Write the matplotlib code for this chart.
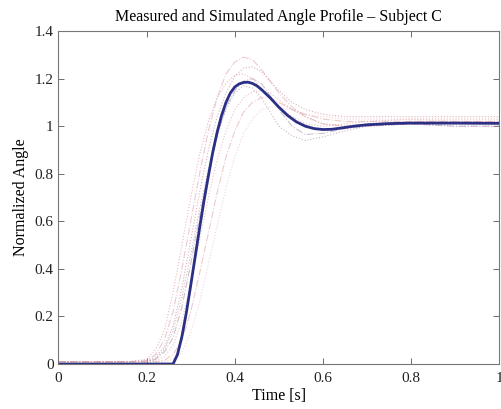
import matplotlib
matplotlib.use("Agg")
import matplotlib.pyplot as plt

# ---- Data ----
t_sim = [0.00, 0.26, 0.27, 0.28, 0.29, 0.30, 0.31, 0.32, 0.33, 0.34, 0.35, 0.36,
         0.37, 0.38, 0.39, 0.40, 0.41, 0.42, 0.43, 0.44, 0.45, 0.46, 0.48, 0.50,
         0.52, 0.54, 0.56, 0.58, 0.60, 0.62, 0.64, 0.67, 0.70, 0.75, 0.80, 0.90, 1.00]
y_sim = [0.000, 0.000, 0.040, 0.115, 0.215, 0.330, 0.450, 0.570, 0.685, 0.790, 0.890, 0.975,
         1.045, 1.100, 1.140, 1.165, 1.178, 1.184, 1.185, 1.180, 1.170, 1.155, 1.120, 1.080,
         1.045, 1.018, 1.000, 0.990, 0.986, 0.987, 0.992, 1.000, 1.006, 1.011, 1.013, 1.013, 1.012]

t_meas = [0.00, 0.16, 0.20, 0.22, 0.24, 0.26, 0.28, 0.30, 0.32, 0.34, 0.36, 0.38, 0.40,
          0.42, 0.44, 0.46, 0.48, 0.50, 0.53, 0.56, 0.60, 0.65, 0.70, 0.80, 0.90, 1.00]
trial_a = [0.01, 0.01, 0.020, 0.06, 0.14, 0.30, 0.50, 0.70, 0.88, 1.02, 1.12, 1.18, 1.215,
           1.22, 1.20, 1.16, 1.12, 1.08, 1.04, 1.01, 1.00, 1.01, 1.02, 1.03, 1.03, 1.03]
trial_b = [0.01, 0.01, 0.015, 0.04, 0.10, 0.22, 0.40, 0.60, 0.80, 0.98, 1.12, 1.22, 1.27,
           1.29, 1.28, 1.24, 1.19, 1.14, 1.08, 1.04, 1.01, 1.00, 1.01, 1.02, 1.02, 1.02]
trial_c = [0.01, 0.01, 0.012, 0.03, 0.07, 0.16, 0.32, 0.52, 0.72, 0.90, 1.04, 1.14, 1.21,
           1.245, 1.25, 1.23, 1.19, 1.15, 1.10, 1.07, 1.05, 1.04, 1.04, 1.04, 1.04, 1.04]
trial_d = [0.01, 0.01, 0.010, 0.02, 0.05, 0.11, 0.24, 0.42, 0.62, 0.80, 0.96, 1.08, 1.15,
           1.19, 1.20, 1.18, 1.13, 1.07, 1.00, 0.965, 0.97, 0.99, 1.00, 1.01, 1.00, 1.00]
trial_e = [0.01, 0.01, 0.010, 0.015, 0.03, 0.08, 0.18, 0.34, 0.52, 0.70, 0.86, 0.98, 1.07,
           1.12, 1.145, 1.15, 1.14, 1.11, 1.07, 1.04, 1.01, 1.00, 1.00, 1.01, 1.01, 1.01]
trial_f = [0.01, 0.01, 0.010, 0.02, 0.06, 0.14, 0.28, 0.46, 0.65, 0.82, 0.96, 1.07, 1.14,
           1.17, 1.16, 1.12, 1.06, 1.00, 0.96, 0.94, 0.955, 0.98, 1.00, 1.01, 1.00, 1.00]
trial_g = [0.01, 0.01, 0.010, 0.01, 0.015, 0.04, 0.10, 0.22, 0.38, 0.55, 0.72, 0.87, 0.98,
           1.06, 1.10, 1.12, 1.12, 1.10, 1.07, 1.05, 1.03, 1.02, 1.02, 1.02, 1.02, 1.02]
trial_h = [0.01, 0.01, 0.010, 0.01, 0.01, 0.02, 0.05, 0.13, 0.26, 0.42, 0.58, 0.74, 0.87,
           0.97, 1.03, 1.07, 1.08, 1.08, 1.07, 1.05, 1.04, 1.03, 1.03, 1.03, 1.02, 1.02]
trials = [trial_a, trial_b, trial_c, trial_d, trial_e, trial_f, trial_g, trial_h]

x_ticks = [0, 0.2, 0.4, 0.6, 0.8, 1]
x_tick_labels = ["0", "0.2", "0.4", "0.6", "0.8", "1"]
y_ticks = [0, 0.2, 0.4, 0.6, 0.8, 1, 1.2, 1.4]
y_tick_labels = ["0", "0.2", "0.4", "0.6", "0.8", "1", "1.2", "1.4"]

# ---- Styling ----
plt.rcParams['font.family'] = ['Liberation Serif', 'DejaVu Serif']
plt.rcParams['font.size'] = 11

fig = plt.figure(figsize=(5.02, 4.09), dpi=100)
ax = fig.add_axes([0.1165, 0.110, 0.878, 0.814])

trial_styles = [
    dict(color='#e08080', ls=':'),
    dict(color='#d9a0b0', ls='-.'),
    dict(color='#c07080', ls=':'),
    dict(color='#b090a8', ls='-.'),
    dict(color='#e09090', ls=':'),
    dict(color='#a08098', ls=':'),
    dict(color='#e0a0a0', ls='-.'),
    dict(color='#e8b0b8', ls=':'),
]
for y, st in zip(trials, trial_styles):
    ax.plot(t_meas, y, lw=0.8, alpha=0.55, **st)

ax.plot(t_sim, y_sim, color='#2b2f86', lw=2.0)

ax.set_xlim(0, 1)
ax.set_ylim(0, 1.4)
ax.set_xticks(x_ticks)
ax.set_xticklabels(x_tick_labels)
ax.set_yticks(y_ticks)
ax.set_yticklabels(y_tick_labels)
ax.tick_params(direction='in', top=True, right=True, length=4, width=0.6,
               colors='#555555', labelcolor='#222222', labelsize=11)
ax.tick_params(axis='x', pad=6)
for s in ax.spines.values():
    s.set_color('#777777')
    s.set_linewidth(0.8)

ax.set_title("Measured and Simulated Angle Profile \u2013 Subject C", fontsize=11.5, pad=7)
ax.set_xlabel("Time [s]", fontsize=11.5, labelpad=2)
ax.set_ylabel("Normalized Angle", fontsize=11.5, labelpad=4)

fig.savefig("out.png", dpi=100)
